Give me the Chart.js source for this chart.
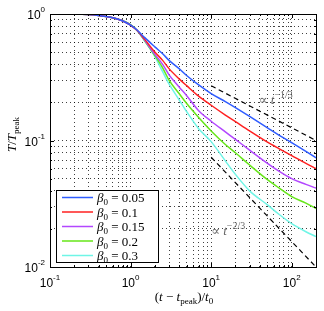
<!DOCTYPE html>
<html>
<head>
<meta charset="utf-8">
<script src="https://cdn.jsdelivr.net/npm/chart.js@4"></script>
<style>
    html, body { margin: 0; padding: 0; background: #fff; }
</style>
</head>
<body>
<canvas id="coolingChart" width="324" height="311"></canvas>
<script>
// ==================== Data ====================
const times = [0.1, 0.2, 0.3, 0.4, 0.5, 0.6, 0.7, 0.85, 1, 1.2, 1.5, 2, 2.5, 3, 4, 5, 7, 10, 15, 20, 30, 50, 70, 100, 150, 200];

const beta005 = [1, 0.998, 0.99, 0.975, 0.955, 0.935, 0.91, 0.865, 0.815, 0.748, 0.65, 0.55, 0.485, 0.43, 0.37, 0.325, 0.275, 0.235, 0.203, 0.182, 0.155, 0.126, 0.11, 0.096, 0.082, 0.073];
const beta010 = [1, 0.998, 0.99, 0.975, 0.955, 0.935, 0.91, 0.865, 0.815, 0.745, 0.63, 0.50, 0.43, 0.37, 0.307, 0.27, 0.224, 0.19, 0.159, 0.141, 0.119, 0.097, 0.086, 0.076, 0.066, 0.060];
const beta015 = [1, 0.998, 0.99, 0.975, 0.955, 0.935, 0.91, 0.865, 0.815, 0.745, 0.62, 0.48, 0.40, 0.33, 0.265, 0.225, 0.172, 0.142, 0.117, 0.102, 0.084, 0.066, 0.057, 0.050, 0.045, 0.042];
const beta020 = [1, 0.998, 0.99, 0.975, 0.955, 0.935, 0.91, 0.87, 0.82, 0.745, 0.615, 0.47, 0.375, 0.30, 0.235, 0.195, 0.152, 0.119, 0.093, 0.080, 0.064, 0.049, 0.042, 0.036, 0.032, 0.029];
const beta030 = [1, 0.998, 0.99, 0.975, 0.955, 0.935, 0.91, 0.875, 0.825, 0.745, 0.61, 0.46, 0.35, 0.28, 0.21, 0.168, 0.124, 0.098, 0.069, 0.054, 0.040, 0.031, 0.026, 0.022, 0.019, 0.0174];

const betaLabels = ["0.05", "0.1", "0.15", "0.2", "0.3"];
const betaColors = ["#2f5cff", "#ff2020", "#b347ff", "#66e619", "#6ff5e6"];

// power-law guide lines (t^-1/3 and t^-2/3)
const refTimes = [10, 200];
const refSlow = [0.271, 0.1];
const refFast = [0.0737, 0.01];

// tick labels
const xDecades = [0.1, 1, 10, 100];
const yDecades = [0.01, 0.1, 1];

// ==================== Helpers ====================
function toPoints(xs, ys) {
    return xs.map((x, i) => ({ x: x, y: ys[i] }));
}

// keep only 1..9 x 10^n ticks (drop the 1.5 ones chart.js adds)
function keepDecadeSteps(scale) {
    scale.ticks = scale.ticks.filter(t => {
        const s = t.value / Math.pow(10, Math.floor(Math.log10(t.value) + 1e-9));
        return Math.abs(s - Math.round(s)) < 1e-6;
    });
}

function isDecade(v) {
    const e = Math.log10(v);
    return Math.abs(e - Math.round(e)) < 1e-6;
}

// draws a list of text pieces; each piece {t, font, dy}
function richWidth(ctx, parts) {
    let w = 0;
    parts.forEach(p => { ctx.font = p.font; w += ctx.measureText(p.t).width; });
    return w;
}
function drawRich(ctx, parts, x, y) {
    let cx = x;
    parts.forEach(p => {
        ctx.font = p.font;
        ctx.fillText(p.t, cx, y + (p.dy || 0));
        cx += ctx.measureText(p.t).width;
    });
}

const SERIF = "'Liberation Serif', 'DejaVu Serif', serif";
const SANS = "'Liberation Sans', Arial, sans-serif";

// ==================== Plugin: frame, ticks, labels, legend ====================
const decorPlugin = {
    id: "decor",
    afterDraw(chart) {
        const ctx = chart.ctx;
        const area = chart.chartArea;
        const xs = chart.scales.x;
        const ys = chart.scales.y;
        ctx.save();

        // box
        ctx.strokeStyle = "#000";
        ctx.lineWidth = 1;
        ctx.strokeRect(Math.round(area.left) + 0.5, Math.round(area.top) + 0.5,
            Math.round(area.right - area.left), Math.round(area.bottom - area.top));

        // inward ticks
        ctx.beginPath();
        xs.ticks.forEach(t => {
            const px = Math.round(xs.getPixelForValue(t.value)) + 0.5;
            const len = isDecade(t.value) ? 4 : 2;
            ctx.moveTo(px, area.bottom); ctx.lineTo(px, area.bottom - len);
            ctx.moveTo(px, area.top); ctx.lineTo(px, area.top + len);
        });
        ys.ticks.forEach(t => {
            const py = Math.round(ys.getPixelForValue(t.value)) + 0.5;
            const len = isDecade(t.value) ? 4 : 2;
            ctx.moveTo(area.left, py); ctx.lineTo(area.left + len, py);
            ctx.moveTo(area.right, py); ctx.lineTo(area.right - len, py);
        });
        ctx.stroke();

        // tick labels 10^n
        ctx.fillStyle = "#000";
        ctx.textBaseline = "alphabetic";
        xDecades.forEach(v => {
            const e = String(Math.round(Math.log10(v)));
            const parts = [{ t: "10", font: "12px " + SANS }, { t: e, font: "8px " + SANS, dy: -7 }];
            const w = richWidth(ctx, parts);
            drawRich(ctx, parts, xs.getPixelForValue(v) - w / 2, area.bottom + 20);
        });
        yDecades.forEach(v => {
            const e = String(Math.round(Math.log10(v)));
            const parts = [{ t: "10", font: "12px " + SANS }, { t: e, font: "8px " + SANS, dy: -7 }];
            const w = richWidth(ctx, parts);
            drawRich(ctx, parts, area.left - 5 - w, ys.getPixelForValue(v) + 5);
        });

        // axis titles
        const it = "italic 13px " + SERIF;
        const rm = "13px " + SERIF;
        const sub = "9px " + SERIF;
        const xTitle = [
            { t: "(", font: rm }, { t: "t", font: it }, { t: " \u2212 ", font: rm },
            { t: "t", font: it }, { t: "peak", font: sub, dy: 3 }, { t: ")/", font: rm },
            { t: "t", font: it }, { t: "0", font: sub, dy: 3 }
        ];
        let w = richWidth(ctx, xTitle);
        drawRich(ctx, xTitle, (area.left + area.right) / 2 - w / 2 + 1, area.bottom + 34);

        const yTitle = [
            { t: "T", font: it }, { t: "/", font: rm }, { t: "T", font: it },
            { t: "peak", font: sub, dy: 3 }
        ];
        w = richWidth(ctx, yTitle);
        ctx.save();
        ctx.translate(16, (area.top + area.bottom) / 2 - 6);
        ctx.rotate(-Math.PI / 2);
        drawRich(ctx, yTitle, -w / 2, 0);
        ctx.restore();

        // power-law labels
        ctx.fillStyle = "#666";
        const slowLbl = [
            { t: "\u221D ", font: "13px " + SERIF }, { t: "t", font: "italic 13px " + SERIF },
            { t: "\u22121/3", font: "10px " + SERIF, dy: -6 }
        ];
        drawRich(ctx, slowLbl, xs.getPixelForValue(39), ys.getPixelForValue(0.194));
        const fastLbl = [
            { t: "\u221D ", font: "13px " + SERIF }, { t: "t", font: "italic 13px " + SERIF },
            { t: "\u22122/3", font: "10px " + SERIF, dy: -6 }
        ];
        drawRich(ctx, fastLbl, xs.getPixelForValue(10), ys.getPixelForValue(0.0179));

        // legend box, lower left inside plot
        const lx = area.left + 6, lw = 102, lh = 72;
        const ly = area.bottom - 5 - lh;
        ctx.fillStyle = "#fff";
        ctx.fillRect(lx, ly, lw, lh);
        ctx.strokeStyle = "#000";
        ctx.lineWidth = 1;
        ctx.strokeRect(Math.round(lx) + 0.5, Math.round(ly) + 0.5, lw, lh);
        betaLabels.forEach((lab, i) => {
            const rowY = ly + 7.5 + i * 14.5;
            ctx.strokeStyle = betaColors[i];
            ctx.lineWidth = 1.5;
            ctx.beginPath();
            ctx.moveTo(lx + 6, rowY);
            ctx.lineTo(lx + 37, rowY);
            ctx.stroke();
            ctx.fillStyle = "#000";
            drawRich(ctx, [
                { t: "\u03B2", font: "italic 13px " + SERIF },
                { t: "0", font: "9px " + SERIF, dy: 3 },
                { t: " = " + lab, font: "13px " + SERIF }
            ], lx + 41, rowY + 4.5);
        });

        ctx.restore();
    }
};

// ==================== Chart ====================
const seriesValues = [beta005, beta010, beta015, beta020, beta030];

const curveSets = seriesValues.map((vals, i) => ({
    label: "\u03B2\u2080 = " + betaLabels[i],
    data: toPoints(times, vals),
    borderColor: betaColors[i],
    borderWidth: 1.5,
    pointRadius: 0,
    cubicInterpolationMode: "monotone",
    fill: false
}));

const guideStyle = {
    borderColor: "#000",
    borderWidth: 1.2,
    borderDash: [5, 3.5],
    pointRadius: 0,
    fill: false
};

new Chart(document.getElementById("coolingChart"), {
    type: "line",
    data: {
        datasets: [
            Object.assign({ label: "slow", data: toPoints(refTimes, refSlow) }, guideStyle),
            Object.assign({ label: "fast", data: toPoints(refTimes, refFast) }, guideStyle),
            ...curveSets
        ]
    },
    options: {
        responsive: false,
        animation: false,
        layout: { padding: { top: 14, right: 8, left: 0, bottom: 0 } },
        plugins: {
            legend: { display: false },
            tooltip: { enabled: false }
        },
        scales: {
            x: {
                type: "logarithmic",
                min: 0.1,
                max: 200,
                afterBuildTicks: keepDecadeSteps,
                afterFit: s => { s.height = 44; },
                ticks: { display: false },
                grid: { color: "rgba(0,0,0,0.75)", lineWidth: 1, drawTicks: false },
                border: { display: false, dash: [1, 3] }
            },
            y: {
                type: "logarithmic",
                min: 0.01,
                max: 1,
                afterBuildTicks: keepDecadeSteps,
                afterFit: s => { s.width = 50; },
                ticks: { display: false },
                grid: { color: "rgba(0,0,0,0.75)", lineWidth: 1, drawTicks: false },
                border: { display: false, dash: [1, 3] }
            }
        }
    },
    plugins: [decorPlugin]
});
</script>
</body>
</html>
